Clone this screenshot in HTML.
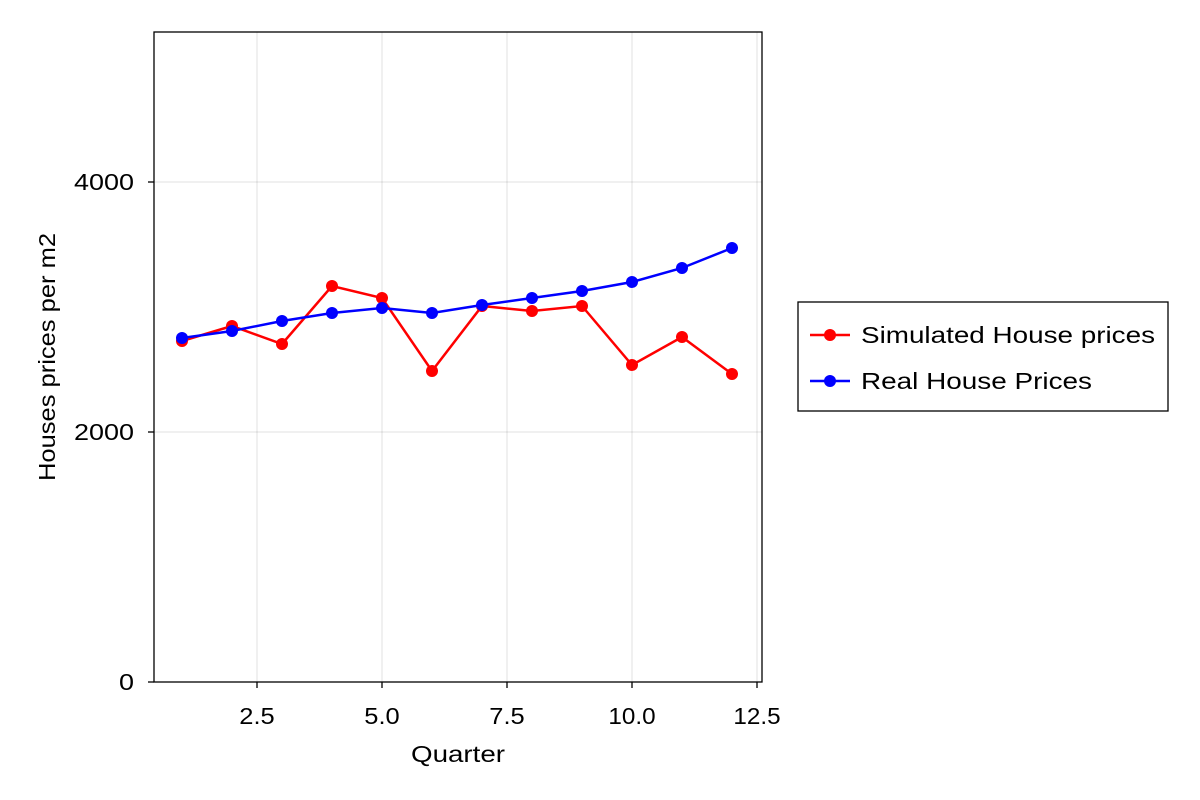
<!DOCTYPE html>
<html><head><meta charset="utf-8"><style>
html,body{margin:0;padding:0;background:#fff;}
svg{display:block;font-family:"Liberation Sans",sans-serif;}
</style></head><body>
<svg id="chart" width="1200" height="800" viewBox="0 0 1200 800" xmlns="http://www.w3.org/2000/svg"></svg>
<script>
const quarters=[1,2,3,4,5,6,7,8,9,10,11,12];
const simulated=[2728,2848,2704,3168,3072,2488,3008,2968,3008,2536,2760,2464];
const real=[2752,2808,2888,2952,2992,2952,3016,3072,3128,3200,3312,3472];
const xTicks=[2.5,5.0,7.5,10.0,12.5];
const xTickLabels=["2.5","5.0","7.5","10.0","12.5"];
const yTicks=[0,2000,4000];
const yTickLabels=["0","2000","4000"];
const seriesNames=["Simulated House prices","Real House Prices"];

const L=154,R=762,T=32,B=682;
const xMin=0.44,xMax=12.6,yMin=0,yMax=5200;
const sx=v=>L+(v-xMin)/(xMax-xMin)*(R-L);
const sy=v=>B-(v-yMin)/(yMax-yMin)*(B-T);
const svg=document.getElementById('chart');
const NS="http://www.w3.org/2000/svg";
function mk(tag,attrs,parent){const e=document.createElementNS(NS,tag);for(const k in attrs)e.setAttribute(k,attrs[k]);(parent||svg).appendChild(e);return e;}

const grid=mk('g',{});


xTicks.forEach(t=>{mk('line',{x1:sx(t),x2:sx(t),y1:T,y2:B,stroke:'#000','stroke-opacity':0.12,'stroke-width':1},grid);});
yTicks.forEach(t=>{mk('line',{x1:L,x2:R,y1:sy(t),y2:sy(t),stroke:'#000','stroke-opacity':0.12,'stroke-width':1},grid);});

const frame=mk('rect',{x:L,y:T,width:R-L,height:B-T,fill:'none',stroke:'#000','stroke-width':1.3});



const xa=mk('g',{});


xTicks.forEach((t,i)=>{
  mk('line',{x1:sx(t),x2:sx(t),y1:B,y2:B+6,stroke:'#000','stroke-width':1.3},xa);
  const lab=xTickLabels[i];
  const tx=mk('text',{x:sx(t),y:B+42,'text-anchor':'middle','font-size':23,textLength:lab.length*11.8,lengthAdjust:'spacingAndGlyphs'},xa);
  
  
  tx.textContent=lab;
});
const ya=mk('g',{});


yTicks.forEach((t,i)=>{
  mk('line',{x1:L-6,x2:L,y1:sy(t),y2:sy(t),stroke:'#000','stroke-width':1.3},ya);
  const lab=yTickLabels[i];
  const tx=mk('text',{x:L-20,y:sy(t)+8,'text-anchor':'end','font-size':23,textLength:lab.length*15,lengthAdjust:'spacingAndGlyphs'},ya);
  
  
  tx.textContent=lab;
});
const xt=mk('text',{x:(L+R)/2,y:762,'text-anchor':'middle','font-size':23,textLength:94,lengthAdjust:'spacingAndGlyphs'});


xt.textContent="Quarter";
const yt=mk('text',{x:0,y:0,'text-anchor':'middle','font-size':23,textLength:248,lengthAdjust:'spacingAndGlyphs',transform:`translate(55,${(T+B)/2}) rotate(-90)`});


yt.textContent="Houses prices per m2";

function drawSeries(vals,color,name){
  const g=mk('g',{});
  
  
  mk('polyline',{points:vals.map((v,i)=>sx(quarters[i])+','+sy(v)).join(' '),fill:'none',stroke:color,'stroke-width':2.5},g);
  vals.forEach((v,i)=>{
    const c=mk('circle',{cx:sx(quarters[i]),cy:sy(v),r:6,fill:color},g);
    
    
  });
}
drawSeries(simulated,'#ff0000','simulated-series');
drawSeries(real,'#0000ff','real-series');

const lg=mk('g',{});


mk('rect',{x:798,y:302,width:370,height:109,fill:'#fff',stroke:'#000','stroke-width':1.3},lg);
[['#ff0000',335,294],['#0000ff',381,231]].forEach((s,i)=>{
  const e=mk('g',{},lg);
  
  
  mk('line',{x1:810,x2:850,y1:s[1],y2:s[1],stroke:s[0],'stroke-width':2.5},e);
  mk('circle',{cx:830,cy:s[1],r:6,fill:s[0]},e);
  const t=mk('text',{x:861,y:s[1]+8,'font-size':23,textLength:s[2],lengthAdjust:'spacingAndGlyphs'},e);
  t.textContent=seriesNames[i];
});
</script>
</body></html>
